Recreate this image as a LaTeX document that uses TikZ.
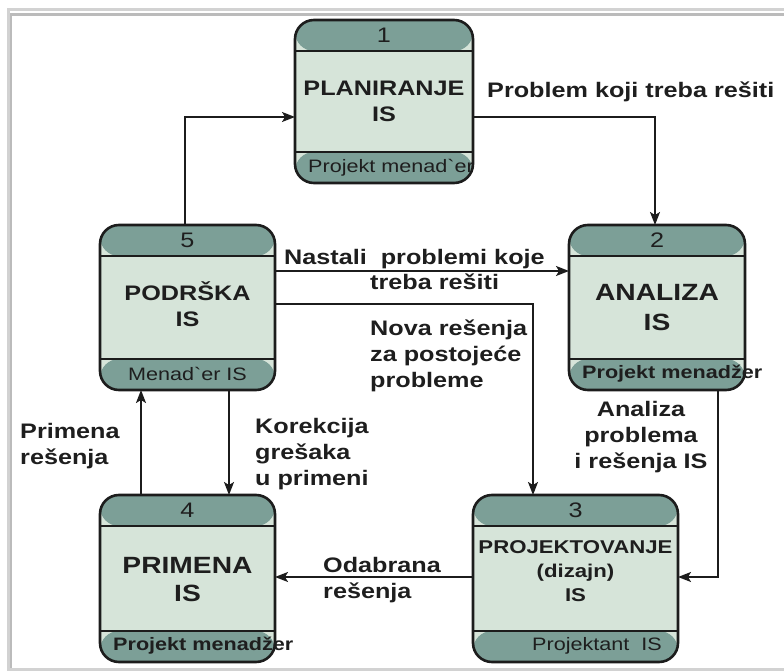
\documentclass[tikz,border=0pt]{standalone}
\usepackage{fontspec}
\setmainfont{Liberation Sans}
\newfontfamily\wide[FakeStretch=1.2,Ligatures=TeXOff]{Liberation Sans}
\usetikzlibrary{arrows.meta}
\definecolor{hdrc}{HTML}{7C9F97}
\definecolor{bodyc}{HTML}{D6E4D9}
\definecolor{edgec}{HTML}{1C1C1C}
\definecolor{inkc}{HTML}{1E1E1E}
\definecolor{framea}{HTML}{D2D2D2}
\definecolor{frameb}{HTML}{BBBBBB}
\newcommand{\fsz}[2]{\fontsize{#1}{#2}\selectfont}

\begin{document}
\begin{tikzpicture}[x=1pt,y=-1pt,
  procbox/.style={rectangle, rounded corners=19pt, draw=edgec, line width=2.6pt,
    fill=bodyc, inner sep=0pt, outer sep=0pt,
    path picture={
      \fill[hdrc] (path picture bounding box.north west) rectangle
                  ([yshift=-31pt]path picture bounding box.north east);
      \fill[hdrc] (path picture bounding box.south west) rectangle
                  ([yshift=31pt]path picture bounding box.south east);
      \draw[edgec, line width=2.4pt]
        ([yshift=-31pt]path picture bounding box.north west) --
        ([yshift=-31pt]path picture bounding box.north east);
      \draw[edgec, line width=2.4pt]
        ([yshift=31pt]path picture bounding box.south west) --
        ([yshift=31pt]path picture bounding box.south east);
    }},
  numtxt/.style={font=\wide\fsz{21}{24}, text=inkc, inner sep=0pt},
  foot/.style={font=\wide\fsz{18}{22}, text=inkc, inner sep=0pt},
  footb/.style={font=\wide\bfseries\fsz{18}{22}, text=inkc, inner sep=0pt},
  title/.style={text=inkc, align=center, inner sep=0pt},
  lab/.style={font=\wide\bfseries\fsz{21}{26}, text=inkc, align=left, inner sep=0pt},
  flow/.style={draw=edgec, line width=1.6pt, -{Stealth[length=13pt,width=10pt,inset=3pt]}}
]
\useasboundingbox (0,0) rectangle (784,671);

% page frame
\draw[framea, line width=3pt] (784,9.5) -- (8,9.5) -- (8,671);
\draw[frameb, line width=2.5pt] (784,14.5) -- (11,14.5) -- (11,668);
\draw[framea, line width=3pt] (8,669.5) -- (784,669.5);

% process boxes
\node[procbox, minimum width=178pt, minimum height=163pt] (p1) at (384,101.5) {};
\node[procbox, minimum width=176pt, minimum height=165pt] (p2) at (657,307.5) {};
\node[procbox, minimum width=175pt, minimum height=165pt] (p5) at (187.5,307.5) {};
\node[procbox, minimum width=175pt, minimum height=167pt] (p4) at (187.5,578.5) {};
\node[procbox, minimum width=205pt, minimum height=167pt] (p3) at (575.5,578.5) {};

% box numbers
\node[numtxt] at ([yshift=-15.5pt]p1.north) {1};
\node[numtxt] at ([yshift=-15.5pt]p2.north) {2};
\node[numtxt] at ([yshift=-15.5pt]p3.north) {3};
\node[numtxt] at ([yshift=-15.5pt]p4.north) {4};
\node[numtxt] at ([yshift=-15.5pt]p5.north) {5};

% box titles
\node[title, font=\wide\bfseries\fsz{21}{26}] at (p1.center) {PLANIRANJE\\IS};
\node[title, font=\wide\bfseries\fsz{23.5}{30}] at (p2.center) {ANALIZA\\IS};
\node[title, font=\wide\bfseries\fsz{21}{26}] at ([yshift=3pt]p5.center) {PODRŠKA\\IS};
\node[title, font=\wide\bfseries\fsz{23.5}{28}] at ([yshift=-1pt]p4.center) {PRIMENA\\IS};
\node[title, font=\wide\bfseries\fsz{18.5}{24}] at ([yshift=7pt]p3.center) {PROJEKTOVANJE\\(dizajn)\\IS};

% box footers
\node[foot, anchor=west] at ([xshift=13pt,yshift=15.5pt]p1.south west) {Projekt menad`er};
\node[footb, anchor=west] at ([xshift=13pt,yshift=16pt]p2.south west) {Projekt menadžer};
\node[foot] at ([yshift=16pt]p5.south) {Menad`er IS};
\node[footb, anchor=west] at ([xshift=13pt,yshift=16pt]p4.south west) {Projekt menadžer};
\node[foot, anchor=west] at ([xshift=59pt,yshift=16pt]p3.south west) {Projektant~ IS};

% bend points of the connectors
\coordinate (c51) at (185,117);
\coordinate (c12) at (655,117);
\coordinate (c52) at (0,271);
\coordinate (c53) at (533,304);
\coordinate (c23) at (718,577);
\coordinate (c34) at (0,577);
\coordinate (c45) at (141,0);
\coordinate (c54) at (229,0);

% connectors
\draw[flow] (p5.north -| c51) |- (p1.west |- c51);
\draw[flow] (p1.east |- c12) -| (p2.north -| c12);
\draw[flow] (p5.east |- c52) -- (p2.west |- c52);
\draw[flow] (p5.east |- c53) -| (p3.north -| c53);
\draw[flow] (p2.south -| c23) |- (p3.east |- c23);
\draw[flow] (p3.west |- c34) -- (p4.east |- c34);
\draw[flow] (p4.north -| c45) -- (p5.south -| c45);
\draw[flow] (p5.south -| c54) -- (p4.north -| c54);

% connector labels
\node[lab, anchor=west] (l12) at (487,92) {Problem koji treba rešiti};
\node[lab, anchor=west] (l52a) at (284,259) {Nastali~ problemi koje};
\node[lab, anchor=west] (l52b) at (370,282) {treba rešiti};
\node[lab, anchor=west] (l53) at (370,356) {Nova rešenja\\za postojeće\\probleme};
\node[lab, align=center] (l23) at (641,437) {Analiza\\problema\\i rešenja IS};
\node[lab, anchor=west] (l54) at (255,454) {Korekcija\\grešaka\\u primeni};
\node[lab, anchor=west] (l45) at (20,446) {Primena\\rešenja};
\node[lab, anchor=west] (l34) at (323,580) {Odabrana\\rešenja};
\end{tikzpicture}
\end{document}
